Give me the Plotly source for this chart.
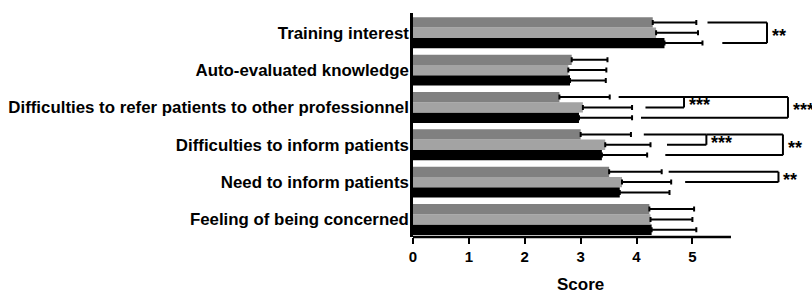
import plotly.graph_objects as go

# ---- data (top-to-bottom order as shown) ----
categories = [
    "Training interest",
    "Auto-evaluated knowledge",
    "Difficulties to refer patients to other professionnel",
    "Difficulties to inform patients",
    "Need to inform patients",
    "Feeling of being concerned",
]
dark_vals = [4.29, 2.84, 2.62, 3.00, 3.51, 4.23]
dark_sd = [0.78, 0.64, 0.90, 0.90, 0.94, 0.80]
light_vals = [4.35, 2.78, 3.04, 3.44, 3.74, 4.25]
light_sd = [0.75, 0.68, 0.88, 0.81, 0.88, 0.75]
black_vals = [4.50, 2.81, 2.97, 3.38, 3.70, 4.27]
black_sd = [0.68, 0.64, 0.95, 0.81, 0.89, 0.80]
x_ticks = [0, 1, 2, 3, 4, 5]

# significance brackets: (category, upper bar, lower bar, x upper start, x lower start, x right, label)
sig_brackets = [
    ("Training interest", "dark", "black", 5.27, 5.535, 6.335, "**"),
    ("Difficulties to refer patients to other professionnel", "dark", "light", 3.68, 4.16, 4.85, "***"),
    ("Difficulties to refer patients to other professionnel", "dark", "black", 4.85, 4.08, 6.71, "***"),
    ("Difficulties to inform patients", "dark", "light", 4.13, 4.545, 5.25, "***"),
    ("Difficulties to inform patients", "dark", "black", 5.25, 4.515, 6.62, "**"),
    ("Need to inform patients", "dark", "light", 4.575, 4.87, 6.54, "**"),
]

# ---- layout constants ----
BARGAP = 0.17
bar_w = (1 - BARGAP) / 3
offsets = {"black": -bar_w, "light": 0.0, "dark": bar_w}
cat_order = categories[::-1]  # bottom to top
FONT = "Arial, Liberation Sans, sans-serif"

fig = go.Figure()
series = [
    ("Group 3", black_vals, black_sd, "#000000"),
    ("Group 2", light_vals, light_sd, "#a3a3a3"),
    ("Group 1", dark_vals, dark_sd, "#808080"),
]
for name, vals, sd, col in series:
    fig.add_trace(go.Bar(
        y=categories, x=vals, name=name, orientation="h",
        marker=dict(color=col, line=dict(width=0)),
        error_x=dict(type="data", symmetric=False, array=sd,
                     arrayminus=[0] * len(sd), color="black",
                     thickness=2, width=2.5),
    ))

shapes = []
annotations = []
for cat, up, low, xs_up, xs_low, xr, label in sig_brackets:
    idx = cat_order.index(cat)
    yu = idx + offsets[up]
    yl = idx + offsets[low]
    line = dict(color="black", width=2)
    shapes.append(dict(type="line", xref="x", yref="y", x0=xs_up, x1=xr, y0=yu, y1=yu, line=line))
    shapes.append(dict(type="line", xref="x", yref="y", x0=xr, x1=xr, y0=yu, y1=yl, line=line))
    shapes.append(dict(type="line", xref="x", yref="y", x0=xs_low, x1=xr, y0=yl, y1=yl, line=line))
    annotations.append(dict(x=xr, y=(yu + yl) / 2, xref="x", yref="y", text=label,
                            showarrow=False, xanchor="left", yanchor="middle", xshift=3, yshift=-3,
                            font=dict(family=FONT, size=18, color="black", weight="bold")))

# x axis line (shorter than plot area)
shapes.append(dict(type="line", xref="x", yref="paper", x0=0, x1=5.69, y0=0, y1=0,
                   line=dict(color="black", width=2.5)))

annotations.append(dict(x=3.0, y=-0.21, xref="x", yref="paper", text="Score", showarrow=False,
                        xanchor="center", yanchor="middle",
                        font=dict(family=FONT, size=17, color="black", weight="bold")))

fig.update_layout(
    width=812, height=291,
    margin=dict(l=413, r=0, t=13, b=54),
    barmode="group", bargap=BARGAP, bargroupgap=0,
    showlegend=False,
    plot_bgcolor="white", paper_bgcolor="white",
    shapes=shapes, annotations=annotations,
    xaxis=dict(range=[0, 7.14], tickvals=x_ticks, ticks="outside", ticklen=6, tickwidth=2,
               tickcolor="black", showline=False, showgrid=False, zeroline=False,
               tickfont=dict(family=FONT, size=15, color="black", weight="bold")),
    yaxis=dict(type="category", categoryorder="array", categoryarray=cat_order,
               range=[-0.47, 5.53], showline=True, linewidth=2.5, linecolor="black",
               ticks="", showgrid=False, zeroline=False, automargin=False,
               ticklabelstandoff=-2,
               tickfont=dict(family=FONT, size=16.85, color="black", weight="bold")),
)

fig.write_html("out.html", config={"displayModeBar": False},
               post_script="document.body.style.margin='0';document.body.style.overflow='hidden';")
